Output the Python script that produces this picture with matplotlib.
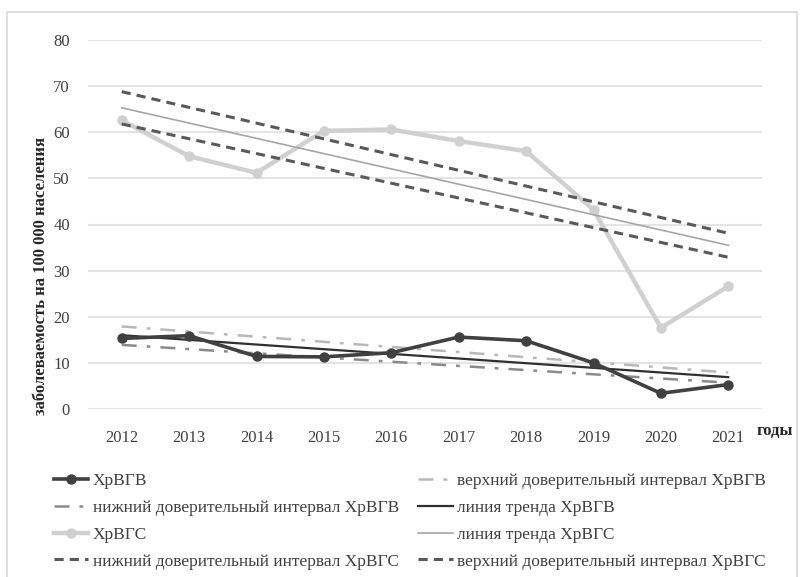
import matplotlib
matplotlib.use("Agg")
import matplotlib.pyplot as plt
from matplotlib.patches import Rectangle

plt.rcParams['font.family'] = ['Liberation Serif', 'DejaVu Serif']

# годы наблюдения
years = ['2012', '2013', '2014', '2015', '2016', '2017', '2018', '2019', '2020', '2021']

# заболеваемость на 100 000 населения
hrvgv = [15.3, 15.9, 11.4, 11.3, 12.2, 15.6, 14.8, 10.0, 3.4, 5.3]
hrvgs = [62.6, 54.8, 51.2, 60.3, 60.6, 58.1, 55.9, 43.2, 17.6, 26.6]

# линии тренда и доверительные интервалы (значения на 2012 и 2021)
trend_hrvgv = [16.0, 6.9]
upper_hrvgv = [17.9, 7.9]
lower_hrvgv = [13.9, 5.7]
trend_hrvgs = [65.3, 35.5]
upper_hrvgs = [68.8, 38.1]
lower_hrvgs = [61.8, 32.9]

yticks = [0, 10, 20, 30, 40, 50, 60, 70, 80]

fig = plt.figure(figsize=(8.04, 5.77), dpi=100)
ax = fig.add_axes([88/804, 1-409/577, (762-88)/804, (409-40)/577])

x = list(range(len(years)))
ends = [x[0], x[-1]]

# рамка диаграммы
fig.patches.append(Rectangle((7/804, -0.01), 790/804, 1-12/577+0.01,
                             transform=fig.transFigure, fill=False,
                             edgecolor='#d9d9d9', linewidth=1.2))

l_uv, = ax.plot(ends, upper_hrvgv, color='#b8b8b8', linewidth=1.8,
                dashes=(6, 4, 1.5, 4), label='верхний доверительный интервал ХрВГВ')
l_lv, = ax.plot(ends, lower_hrvgv, color='#8a8a8a', linewidth=1.8,
                dashes=(6, 4, 1.5, 4), label='нижний доверительный интервал ХрВГВ')
l_tv, = ax.plot(ends, trend_hrvgv, color='#303030', linewidth=1.6,
                label='линия тренда ХрВГВ')

l_s, = ax.plot(x, hrvgs, color='#d0d0d0', linewidth=3.2, marker='o',
               markersize=6.5, label='ХрВГС')
l_ts, = ax.plot(ends, trend_hrvgs, color='#a6a6a6', linewidth=1.2,
                label='линия тренда ХрВГС')
l_us, = ax.plot(ends, upper_hrvgs, color='#595959', linewidth=2.2,
                dashes=(3, 2), label='верхний доверительный интервал ХрВГС')
l_ls, = ax.plot(ends, lower_hrvgs, color='#595959', linewidth=2.2,
                dashes=(3, 2), label='нижний доверительный интервал ХрВГС')

l_v, = ax.plot(x, hrvgv, color='#404040', linewidth=2.6, marker='o',
               markersize=6.5, label='ХрВГВ')

ax.set_xlim(-0.5, len(years) - 0.5)
ax.set_ylim(0, 80)
ax.set_xticks(x)
ax.set_xticklabels(years)
ax.set_yticks(yticks)
ax.tick_params(axis='both', length=0, labelsize=12, colors='#404040')
ax.tick_params(axis='x', pad=15)
ax.tick_params(axis='y', pad=13)
ax.grid(axis='y', color='#e4e4e4', linewidth=1.5)
ax.set_axisbelow(True)
for s in ax.spines.values():
    s.set_visible(False)

ax.set_ylabel('заболеваемость на 100 000 населения', fontsize=12,
              fontweight='bold', color='#262626')
ax.yaxis.set_label_coords(-0.058, 0.36)
fig.text(757/804, 1-431/577, 'годы', fontsize=12, fontweight='bold',
         color='#262626', va='center', ha='left')

handles = [l_v, l_lv, l_s, l_ls, l_uv, l_tv, l_ts, l_us]
leg = fig.legend(handles=handles, labels=[h.get_label() for h in handles],
                 ncol=2, loc='upper left', bbox_to_anchor=(38/804, 1-457/577),
                 frameon=False, fontsize=12.5, handlelength=2.0,
                 handletextpad=0.25, labelspacing=0.62, columnspacing=1.1)
for t in leg.get_texts():
    t.set_color('#404040')

fig.savefig('out.png', dpi=100)
